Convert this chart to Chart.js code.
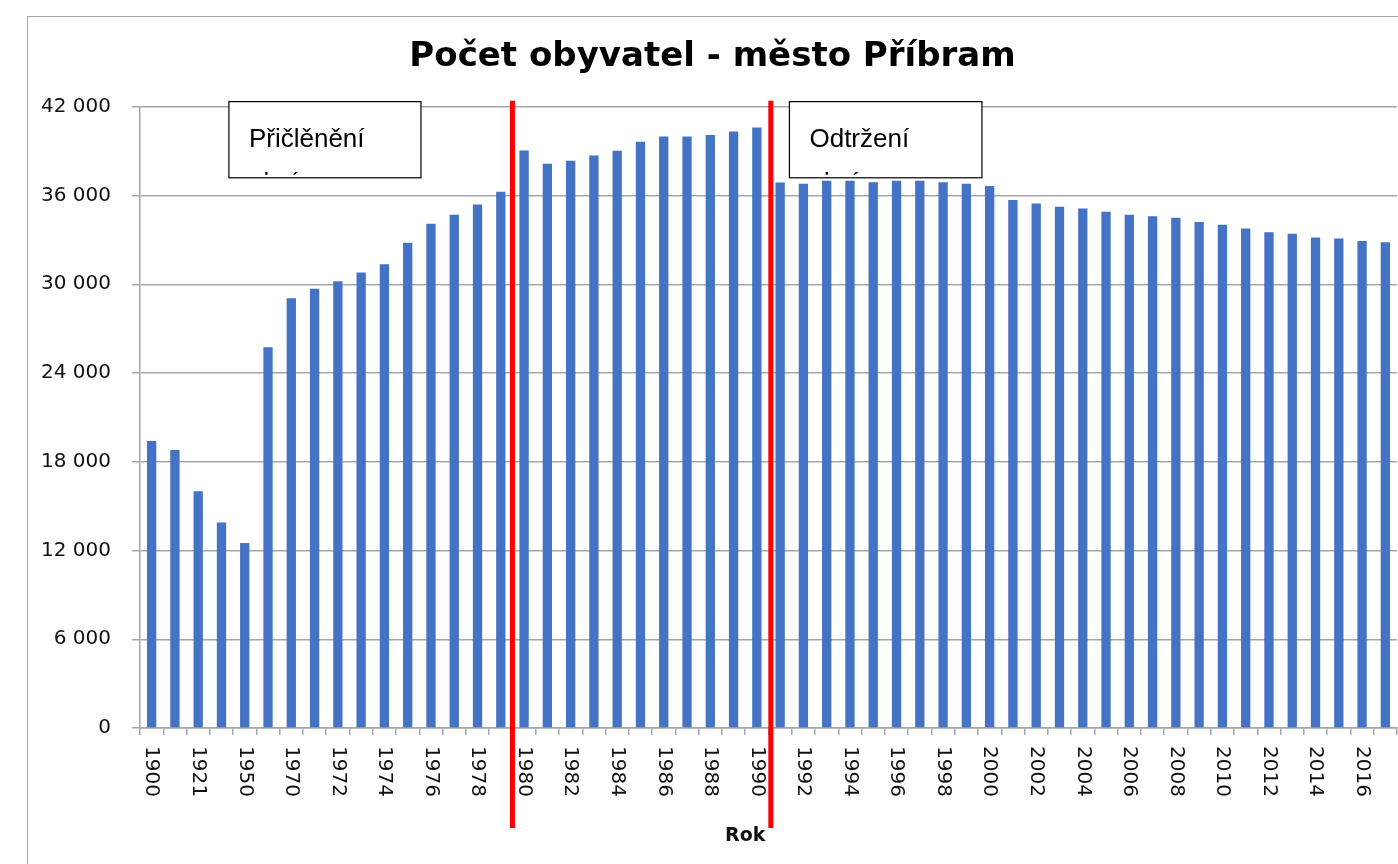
<!DOCTYPE html>
<html lang="cs">
<head>
    <meta charset="UTF-8">
    <title>Počet obyvatel - město Příbram</title>
    <script src="https://cdn.jsdelivr.net/npm/chart.js"></script>
    <style>
        html, body {
            margin: 0; padding: 0;
            background: white;
            overflow: hidden;
            width: 1398px; height: 864px;
        }
        #box {
            position: absolute;
            left: 27px; top: 16px;
            width: 1390px; height: 900px;
            border: 1px solid #a6a6a6;
            background: white;
        }
        canvas { display: block; }
    </style>
</head>
<body>
<div id="box"><canvas id="chart" width="1390" height="900"></canvas></div>

<script>
    const years = ['1900', '1910', '1921', '1930', '1950', '1961',
        '1970', '1971', '1972', '1973', '1974', '1975', '1976', '1977', '1978', '1979',
        '1980', '1981', '1982', '1983', '1984', '1985', '1986', '1987', '1988', '1989',
        '1990', '1991', '1992', '1993', '1994', '1995', '1996', '1997', '1998', '1999',
        '2000', '2001', '2002', '2003', '2004', '2005', '2006', '2007', '2008', '2009',
        '2010', '2011', '2012', '2013', '2014', '2015', '2016', '2017'];

    const population = [19400, 18800, 16000, 13900, 12500, 25750,
        29050, 29700, 30200, 30800, 31350, 32800, 34100, 34700, 35400, 36250,
        39050, 38150, 38350, 38700, 39030, 39630, 39990, 39990, 40100, 40330,
        40600, 36890, 36800, 37000, 37000, 36900, 37000, 37000, 36900, 36800,
        36640, 35700, 35470, 35250, 35130, 34900, 34700, 34600, 34500, 34210,
        34030, 33780, 33510, 33420, 33170, 33090, 32930, 32840];

    // every second year gets a label on the axis
    const shownLabels = years.filter((y, i) => i % 2 === 0);

    const yTicks = [0, 6000, 12000, 18000, 24000, 30000, 36000, 42000];

    const chartTitle = 'Počet obyvatel - město Příbram';
    const axisTitle = 'Rok';

    // red marker lines (category index) and their text boxes (index range)
    const events = [
        { at: 15.5, from: 3.32, to: 11.57, lines: ['Přičlěnění', 'obcí'] },
        { at: 26.6, from: 27.4, to: 35.67, lines: ['Odtržení', 'obcí'] }
    ];

    const labelFont = '20px "DejaVu Sans"';
    const gridColor = '#a6a6a6';

    const overlay = {
        id: 'overlay',
        afterDraw(chart) {
            const ctx = chart.ctx;
            const xs = chart.scales.x, ys = chart.scales.y;
            ctx.save();

            // rotated year labels, reading top to bottom
            ctx.fillStyle = '#111';
            ctx.font = labelFont;
            ctx.textAlign = 'left';
            ctx.textBaseline = 'middle';
            years.forEach((y, i) => {
                if (!shownLabels.includes(y) || i % 2) return;
                ctx.save();
                ctx.translate(xs.getPixelForValue(i), xs.top + 18);
                ctx.rotate(Math.PI / 2);
                ctx.fillText(y, 0, 0);
                ctx.restore();
            });

            // axis title
            ctx.font = 'bold 19px "DejaVu Sans"';
            ctx.textAlign = 'center';
            ctx.fillText(axisTitle, xs.getPixelForValue(25.5), xs.top + 108);

            events.forEach(ev => {
                // red line
                const x = xs.getPixelForValue(ev.at);
                ctx.strokeStyle = '#ff0000';
                ctx.lineWidth = 5;
                ctx.beginPath();
                ctx.moveTo(x, ys.getPixelForValue(42000) - 6);
                ctx.lineTo(x, xs.top + 100);
                ctx.stroke();

                // text box, second line is cut off by the box edge
                const l = xs.getPixelForValue(ev.from), r = xs.getPixelForValue(ev.to);
                const t = ys.getPixelForValue(42350), b = ys.getPixelForValue(37200);
                ctx.fillStyle = 'white';
                ctx.fillRect(l, t, r - l, b - t);
                ctx.strokeStyle = '#000';
                ctx.lineWidth = 1.2;
                ctx.strokeRect(l, t, r - l, b - t);

                ctx.save();
                ctx.beginPath();
                ctx.rect(l, t, r - l, b - t - 3);
                ctx.clip();
                ctx.fillStyle = '#000';
                ctx.font = '26px "Liberation Sans"';
                ctx.textAlign = 'left';
                ctx.textBaseline = 'alphabetic';
                ctx.fillText(ev.lines[0], l + 20, t + 45);
                ctx.fillText(ev.lines[1], l + 20, t + 89);
                ctx.restore();
            });

            ctx.restore();
        }
    };

    new Chart(document.getElementById('chart'), {
        type: 'bar',
        data: {
            labels: years,
            datasets: [{
                label: 'Počet obyvatel',
                data: population,
                backgroundColor: '#4472c4',
                borderWidth: 0,
                barPercentage: 0.4,
                categoryPercentage: 1
            }]
        },
        options: {
            responsive: false,
            animation: false,
            layout: { padding: { left: 0, right: 21, top: 0, bottom: 0 } },
            plugins: {
                legend: { display: false },
                tooltip: { enabled: false },
                title: {
                    display: true,
                    text: chartTitle,
                    color: '#000',
                    font: { family: 'DejaVu Sans', size: 34, weight: 'bold', lineHeight: 1.2 },
                    padding: { top: 20, bottom: 29 }
                }
            },
            scales: {
                x: {
                    grid: { offset: true, drawOnChartArea: false, drawTicks: true, tickLength: 7, color: gridColor, lineWidth: 1.5 },
                    border: { color: gridColor, width: 1.5 },
                    ticks: { display: false },
                    afterFit: s => { s.height = 189; }
                },
                y: {
                    min: 0,
                    max: 42000,
                    afterBuildTicks: s => { s.ticks = yTicks.map(v => ({ value: v })); },
                    grid: { color: gridColor, lineWidth: 1.5, tickLength: 8 },
                    border: { color: gridColor, width: 1.5 },
                    ticks: {
                        color: '#111',
                        font: { family: 'DejaVu Sans', size: 20 },
                        padding: 21,
                        callback: v => String(v).replace(/\B(?=(\d{3})+(?!\d))/g, ' ')
                    },
                    afterFit: s => { s.width = 112; }
                }
            }
        },
        plugins: [overlay]
    });
</script>
</body>
</html>
